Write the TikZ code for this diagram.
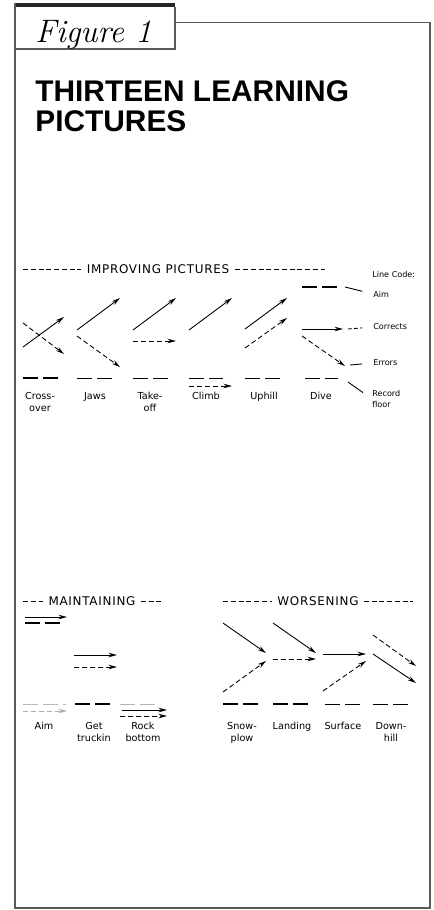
\documentclass[tikz,border=0pt]{standalone}
\usepackage{fontspec}
\newfontfamily\plotfont{DejaVu Sans}
\newfontfamily\headfont[LetterSpace=6]{DejaVu Sans}
\newfontfamily\titlefont{Liberation Sans}
\usetikzlibrary{arrows.meta}

\begin{document}
\begin{tikzpicture}[
    x=0.2mm, y=-0.2mm,
    border/.style={draw=black!65, line width=0.6pt},
    heading/.style={font=\headfont\fontsize{6.8}{7}\selectfont, inner sep=0pt},
    rule/.style={dash pattern=on 1mm off 0.55mm, line width=0.4pt},
    caption/.style={font=\plotfont\fontsize{5.5}{6.6}\selectfont, align=center, anchor=north, inner sep=0pt},
    legend/.style={font=\plotfont\fontsize{4.6}{6}\selectfont, align=left, anchor=west, inner sep=0pt},
    floorline/.style={dash pattern=on 3mm off 1mm, line width=0.45pt},
    correct/.style={-{Stealth[length=1.7mm,width=0.9mm]}, line width=0.5pt},
    error/.style={correct, dash pattern=on 1mm off 0.6mm},
    leader/.style={line width=0.5pt, shorten >=2.2mm},
]
\useasboundingbox (0,0) rectangle (433,910);

% Frame and caption tab
\fill[black!85] (15,2.5) rectangle (175,6.5);
\draw[border] (175,6.5) -- (175,49) -- (15,49);
\draw[border] (15,2.5) -- (15,908) -- (430,908) -- (430,22.5) -- (175,22.5);
\node[font=\itshape\fontsize{18.5}{20}\selectfont, anchor=base west, inner sep=0pt] (fig) at (35,42) {Figure 1};
\node[font=\titlefont\bfseries\fontsize{17}{17.2}\selectfont, align=left, anchor=north west, inner sep=0pt] (title) at (35,80) {THIRTEEN LEARNING\\PICTURES};

% Improving pictures
\node[heading] (improve) at (158,269) {IMPROVING PICTURES};
\draw[rule, shorten >=1.2mm] (23,269) -- (improve.west);
\draw[rule, shorten <=1.2mm] (improve.east) -- (325,269);

% Cross-over
\draw[floorline, line width=0.7pt] (23,378) -- (58,378);
\draw[correct] (23,347) -- (64,317);
\draw[error] (23,323) -- (64,354);
\node[caption] (crossover) at (40,392) {Cross-\\over};

% Jaws
\draw[floorline] (77,378) -- (115,378);
\draw[correct] (77,330) -- (120,298);
\draw[error] (77,336) -- (120,367);
\node[caption] (jaws) at (95,392) {Jaws};

% Take-off
\draw[floorline] (133,378) -- (168,378);
\draw[correct] (133,330) -- (176,298);
\draw[error] (133,341) -- (176,341);
\node[caption] (takeoff) at (150,392) {Take-\\off};

% Climb
\draw[floorline] (189,378) -- (223,378);
\draw[error] (189,386) -- (232,386);
\draw[correct] (189,330) -- (232,298);
\node[caption] (climb) at (206,392) {Climb};

% Uphill
\draw[floorline] (245,378) -- (282,378);
\draw[correct] (245,329) -- (287,298);
\draw[error] (245,348) -- (287,318);
\node[caption] (uphill) at (264,392) {Uphill};

% Dive (also the line code key)
\draw[floorline, line width=0.8pt] (302,287) -- (340,287);
\draw[correct] (302,329) -- (343,329);
\draw[error] (302,336) -- (345,366);
\draw[floorline] (305,378) -- (338,378);
\node[caption] (dive) at (321,392) {Dive};

% Line code
\node[legend] (code) at (372,274) {Line Code:};
\node[legend] (keyaim) at (373,294) {Aim};
\node[legend] (keycorr) at (373,327) {Corrects};
\node[legend] (keyerr) at (373,363) {Errors};
\node[legend] (keyrec) at (372,399) {Record\\floor};
\draw[leader] (345,287) -- (keyaim.west);
\draw[leader, dash pattern=on 0.8mm off 0.4mm] (348,329) -- (keycorr.west);
\draw[leader] (350,365) -- (keyerr.west);
\draw[leader] (348,382) -- (keyrec.west);

% Maintaining
\node[heading] (maintain) at (92,601) {MAINTAINING};
\draw[rule, shorten >=1mm] (23,601) -- (maintain.west);
\draw[rule, shorten <=1mm] (maintain.east) -- (163,601);

% Aim
\draw[correct] (25,617) -- (67,617);
\draw[floorline, line width=0.7pt] (25,623) -- (62,623);
\draw[floorline, gray!55] (23,704) -- (66,704);
\draw[error, gray!65] (23,711) -- (67,711);
\node[caption] (aim) at (44,722) {Aim};

% Get truckin
\draw[correct] (74,655) -- (117,655);
\draw[error] (74,667) -- (117,667);
\draw[floorline, line width=0.7pt] (75,704) -- (112,704);
\node[caption] (truckin) at (94,722) {Get\\truckin};

% Rock bottom
\draw[floorline, gray!60] (120,704) -- (160,704);
\draw[correct] (122,710) -- (167,710);
\draw[error] (120,716) -- (167,716);
\node[caption] (rock) at (143,722) {Rock\\bottom};

% Worsening
\node[heading] (worsen) at (318,601) {WORSENING};
\draw[rule, shorten >=1mm] (223,601) -- (worsen.west);
\draw[rule, shorten <=1mm] (worsen.east) -- (413,601);

% Snow-plow
\draw[correct] (223,623) -- (266,653);
\draw[error] (223,692) -- (266,661);
\draw[floorline, line width=0.7pt] (223,704) -- (262,704);
\node[caption] (snowplow) at (242,722) {Snow-\\plow};

% Landing
\draw[correct] (273,623) -- (316,653);
\draw[error] (273,659) -- (316,659);
\draw[floorline, line width=0.7pt] (273,704) -- (310,704);
\node[caption] (landing) at (292,722) {Landing};

% Surface
\draw[correct] (323,654) -- (366,654);
\draw[error] (323,691) -- (366,661);
\draw[floorline] (325,704) -- (362,704);
\node[caption] (surface) at (343,722) {Surface};

% Down-hill
\draw[error] (373,635) -- (416,666);
\draw[correct] (373,654) -- (416,683);
\draw[floorline] (373,704) -- (410,704);
\node[caption] (downhill) at (391,722) {Down-\\hill};

\end{tikzpicture}
\end{document}
